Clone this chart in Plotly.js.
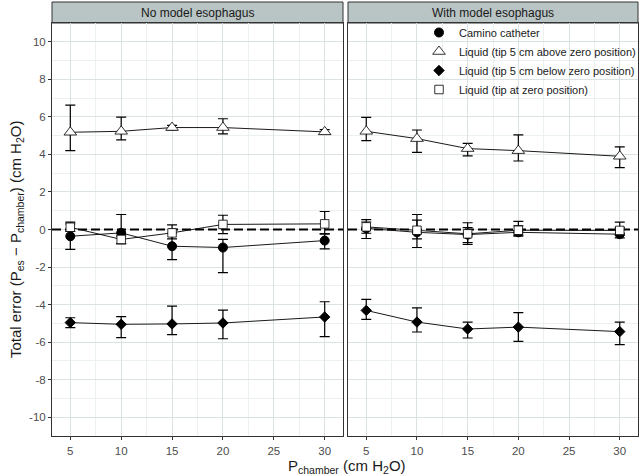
<!DOCTYPE html>
<html>
<head>
<meta charset="utf-8">
<script src="https://cdn.plot.ly/plotly-3.0.1.min.js"></script>
<style>html,body{margin:0;padding:0;background:#fff;overflow:hidden}#chart{width:672px;height:476px}</style>
</head>
<body>
<div id="chart"></div>
<script>
// ---- data ----
const pressure = [5, 10, 15, 20, 30];
const xTicks = [5, 10, 15, 20, 25, 30];
const yTicks = [-10, -8, -6, -4, -2, 0, 2, 4, 6, 8, 10];
const panelTitles = ["No model esophagus", "With model esophagus"];
const seriesNames = ["Camino catheter", "Liquid (tip 5 cm above zero position)", "Liquid (tip 5 cm below zero position)", "Liquid (tip at zero position)"];
const zeroErrorLevel = 0;   // dashed reference line (no error)

// No model esophagus
const caminoNo    = [-0.36, -0.18, -0.89, -0.96, -0.59];
const caminoNoHi  = [ 0.30,  0.80, -0.20, -0.53, -0.23];
const caminoNoLo  = [-1.06, -0.75, -1.60, -2.30, -1.03];
const aboveNo     = [5.18, 5.23, 5.43, 5.43, 5.20];
const aboveNoHi   = [6.63, 5.99, 5.55, 5.90, 5.32];
const aboveNoLo   = [4.20, 4.77, 5.31, 5.09, 5.08];
const belowNo     = [-4.96, -5.05, -5.03, -4.98, -4.66];
const belowNoHi   = [-4.70, -4.64, -4.08, -4.29, -3.85];
const belowNoLo   = [-5.23, -5.76, -5.60, -5.82, -5.71];
const zeroNo      = [0.12, -0.53, -0.18, 0.27, 0.30];
const zeroNoHi    = [0.39, -0.35, 0.25, 0.76, 0.96];
const zeroNoLo    = [-0.10, -0.75, -0.50, -0.22, -0.23];

// With model esophagus
const caminoW     = [0.06, -0.15, -0.27, -0.15, -0.25];
const caminoWHi   = [0.40, 0.50, 0.10, 0.20, 0.10];
const caminoWLo   = [-0.48, -0.96, -0.70, -0.35, -0.45];
const aboveW      = [5.23, 4.84, 4.31, 4.20, 3.90];
const aboveWHi    = [5.97, 5.30, 4.59, 5.04, 4.40];
const aboveWLo    = [4.73, 4.11, 3.92, 3.65, 3.30];
const belowW      = [-4.31, -4.93, -5.30, -5.20, -5.44];
const belowWHi    = [-3.72, -4.17, -4.93, -4.43, -4.93];
const belowWLo    = [-4.79, -5.46, -5.78, -5.96, -6.13];
const zeroW       = [0.14, -0.04, -0.23, -0.04, -0.05];
const zeroWHi     = [0.53, 0.80, 0.36, 0.43, 0.39];
const zeroWLo     = [-0.20, -0.50, -0.80, -0.30, -0.30];

// ---- styles ----
const xRange = [3.2, 31.8];
const markerStyles = [
  {symbol: "circle", size: 9, color: "#000", line: {color: "#000", width: 1}},
  {symbol: "triangle-up", size: 11, color: "#fff", line: {color: "#000", width: 0.8}},
  {symbol: "diamond", size: 8, color: "#000", line: {color: "#000", width: 1}},
  {symbol: "square", size: 8.5, color: "#fff", line: {color: "#000", width: 0.8}}
];

function errFrom(vals, hi, lo) {
  return {
    type: "data", symmetric: false,
    array: hi.map((h, i) => h - vals[i]),
    arrayminus: lo.map((l, i) => vals[i] - l),
    color: "#000", thickness: 1.2, width: 5
  };
}

function makeTrace(vals, hi, lo, k, xa, ya) {
  return {
    x: pressure, y: vals, xaxis: xa, yaxis: ya,
    type: "scatter", mode: "lines+markers",
    line: {color: "#000", width: 0.9},
    marker: markerStyles[k],
    error_y: errFrom(vals, hi, lo),
    showlegend: false, hoverinfo: "skip", cliponaxis: false
  };
}

const order = [2, 0, 1, 3]; // drawing order: below, camino, above, zero
const panelData = [
  [[caminoNo, caminoNoHi, caminoNoLo], [aboveNo, aboveNoHi, aboveNoLo], [belowNo, belowNoHi, belowNoLo], [zeroNo, zeroNoHi, zeroNoLo]],
  [[caminoW, caminoWHi, caminoWLo], [aboveW, aboveWHi, aboveWLo], [belowW, belowWHi, belowWLo], [zeroW, zeroWHi, zeroWLo]]
];

const traces = [];
panelData.forEach((pd, p) => {
  const xa = p === 0 ? "x" : "x2", ya = p === 0 ? "y" : "y2";
  // dashed zero-error reference line, drawn first (under the data)
  traces.push({
    x: xRange, y: [zeroErrorLevel, zeroErrorLevel], xaxis: xa, yaxis: ya,
    type: "scatter", mode: "lines", line: {color: "#000", width: 2, dash: "9px,4px"},
    showlegend: false, hoverinfo: "skip"
  });
  order.forEach(k => traces.push(makeTrace(pd[k][0], pd[k][1], pd[k][2], k, xa, ya)));
});
// legend entries (markers only)
seriesNames.forEach((name, k) => {
  traces.push({
    x: [null], y: [null], xaxis: "x2", yaxis: "y2",
    type: "scatter", mode: "markers", name: name,
    marker: markerStyles[k], showlegend: true, hoverinfo: "skip"
  });
});

// drawing canvas is a bit wider than the 640px window so the legend is not pushed left
const W = 672, H = 476;
const yDom = [(H - 436) / H, (H - 23) / H];
const xDom1 = [52 / W, 343 / W];
const xDom2 = [348 / W, 638 / W];

const gridMajor = "#dae2e4";
const gridMinor = "#ebf0f1";
const FONT = "Liberation Sans, Arial, sans-serif";
const tickFont = {family: FONT, size: 11.5, color: "#4d4d4d"};

function xAxis(dom, anchor) {
  return {
    domain: dom, anchor: anchor, range: xRange,
    tickmode: "array", tickvals: xTicks, ticktext: xTicks.map(String),
    showgrid: true, gridcolor: gridMajor, gridwidth: 1,
    minor: {dtick: 2.5, tick0: 2.5, showgrid: true, gridcolor: gridMinor, gridwidth: 1, ticks: ""},
    zeroline: false, showline: true, mirror: true, linecolor: "#333", linewidth: 1,
    ticks: "outside", ticklen: 3, tickcolor: "#333", tickwidth: 1, ticklabelstandoff: 1,
    tickfont: tickFont, fixedrange: true
  };
}
function yAxis(anchor, showLabels) {
  return {
    domain: yDom, anchor: anchor, range: [-11, 11],
    tickmode: "array", tickvals: yTicks, ticktext: yTicks.map(String),
    showticklabels: showLabels,
    showgrid: true, gridcolor: gridMajor, gridwidth: 1,
    minor: {dtick: 2, tick0: 1, showgrid: true, gridcolor: gridMinor, gridwidth: 1, ticks: ""},
    zeroline: false, showline: true, mirror: true, linecolor: "#333", linewidth: 1,
    ticks: showLabels ? "outside" : "", ticklen: 3, tickcolor: "#333", tickwidth: 1,
    tickfont: tickFont, fixedrange: true
  };
}

const stripTop = (H - 2) / H;
const shapes = [
  {type: "rect", xref: "paper", yref: "paper", x0: xDom1[0], x1: xDom1[1], y0: yDom[1], y1: stripTop,
   fillcolor: "#b9c4c4", line: {color: "#333", width: 1}, layer: "below"},
  {type: "rect", xref: "paper", yref: "paper", x0: xDom2[0], x1: xDom2[1], y0: yDom[1], y1: stripTop,
   fillcolor: "#b9c4c4", line: {color: "#333", width: 1}, layer: "below"}
];

const stripY = (yDom[1] + stripTop) / 2;
const annotations = [
  {text: panelTitles[0], xref: "paper", yref: "paper", x: (xDom1[0] + xDom1[1]) / 2, y: stripY,
   showarrow: false, xanchor: "center", yanchor: "middle",
   font: {family: FONT, size: 12, color: "#1a1a1a"}},
  {text: panelTitles[1], xref: "paper", yref: "paper", x: (xDom2[0] + xDom2[1]) / 2, y: stripY,
   showarrow: false, xanchor: "center", yanchor: "middle",
   font: {family: FONT, size: 12, color: "#1a1a1a"}},
  {text: "P<sub>chamber</sub> (cm H<sub>2</sub>O)", xref: "paper", yref: "paper",
   x: 286 / W, y: (H - 466) / H, showarrow: false, xanchor: "left", yanchor: "middle",
   font: {family: FONT, size: 15, color: "#1a1a1a"}},
  {text: "Total error (P<sub>es</sub> \u2212 P<sub>chamber</sub>) (cm H<sub>2</sub>O)", xref: "paper", yref: "paper",
   x: 16 / W, y: (H - 240) / H, textangle: -90, showarrow: false, xanchor: "center", yanchor: "middle",
   font: {family: FONT, size: 15, color: "#1a1a1a"}}
];

const layout = {
  width: W, height: H,
  margin: {l: 0, r: 0, t: 0, b: 0},
  paper_bgcolor: "#fff", plot_bgcolor: "#fff",
  showlegend: true,
  legend: {
    x: 419 / W, y: (H - 18) / H, xanchor: "left", yanchor: "top",
    bgcolor: "rgba(0,0,0,0)", borderwidth: 0,
    font: {family: FONT, size: 11, color: "#1a1a1a"},
    itemwidth: 30, tracegroupgap: 0
  },
  xaxis: xAxis(xDom1, "y"),
  yaxis: yAxis("x", true),
  xaxis2: xAxis(xDom2, "y2"),
  yaxis2: yAxis("x2", false),
  shapes: shapes,
  annotations: annotations
};

Plotly.newPlot("chart", traces, layout, {staticPlot: true, displayModeBar: false});
</script>
</body>
</html>
